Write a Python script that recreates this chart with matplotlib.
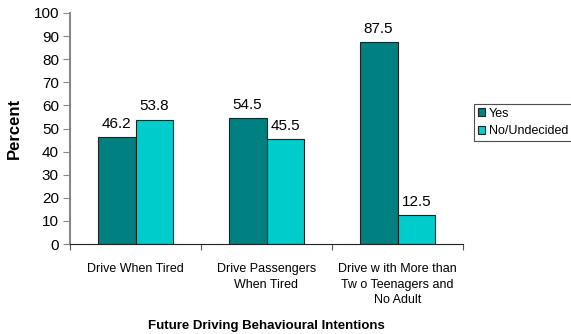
import matplotlib
matplotlib.use("Agg")
import matplotlib.pyplot as plt
import numpy as np

plt.rcParams['font.family'] = ['Liberation Sans', 'DejaVu Sans']

categories = ["Drive When Tired",
              "Drive Passengers\nWhen Tired",
              "Drive w ith More than\nTw o Teenagers and\nNo Adult"]
yes_values = [46.2, 54.5, 87.5]
no_values = [53.8, 45.5, 12.5]
series_names = ["Yes", "No/Undecided"]

fig = plt.figure(figsize=(5.71, 3.34), dpi=100)
ax = fig.add_axes([70 / 571, 1 - 244 / 334, 393 / 571, 231 / 334])

x = np.arange(len(categories))
w = 0.29
b1 = ax.bar(x - w / 2, yes_values, w, color='#008080', edgecolor='#222222',
            linewidth=0.8, label=series_names[0])
b2 = ax.bar(x + w / 2, no_values, w, color='#00CCCC', edgecolor='#222222',
            linewidth=0.8, label=series_names[1])
for bars in (b1, b2):
    ax.bar_label(bars, fmt='%.1f', padding=4.5, fontsize=11)

ax.set_xlim(-0.5, 2.5)
ax.set_ylim(0, 100)
ax.set_yticks(range(0, 101, 10))
ax.tick_params(axis='y', labelsize=11, length=5, color='#888888', pad=3)

# category ticks sit between the groups, labels at the centres
ax.set_xticks([-0.5, 0.5, 1.5, 2.5])
ax.set_xticklabels([])
ax.set_xticks(x, minor=True)
ax.set_xticklabels(categories, minor=True, fontsize=9, linespacing=1.35)
ax.tick_params(axis='x', which='major', length=4, color='#555555')
ax.tick_params(axis='x', which='minor', length=0, pad=14)

for s in ('top', 'right'):
    ax.spines[s].set_visible(False)
ax.spines['left'].set_color('#888888')
ax.spines['left'].set_linewidth(1.5)
ax.spines['bottom'].set_color('#222222')

ax.set_ylabel('Percent', fontsize=12, fontweight='bold', labelpad=8)
ax.set_xlabel('Future Driving Behavioural Intentions', fontsize=9.5,
              fontweight='bold', labelpad=10)

leg = ax.legend(loc='upper left', bbox_to_anchor=(474 / 571, 1 - 104 / 334),
                bbox_transform=fig.transFigure, fontsize=9, frameon=True,
                fancybox=False, handlelength=0.6, handleheight=0.6,
                handletextpad=0.3, borderpad=0.3, labelspacing=0.45,
                borderaxespad=0)
leg.get_frame().set_edgecolor('#222222')
leg.get_frame().set_linewidth(0.8)

fig.savefig('out.png', dpi=100)
